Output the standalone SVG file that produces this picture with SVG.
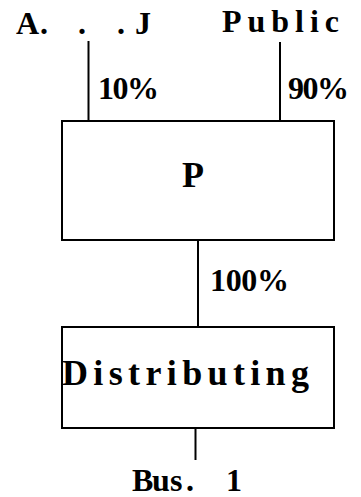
<svg xmlns="http://www.w3.org/2000/svg" width="361" height="497" viewBox="0 0 361 497">
<style>
.box{fill:#fff;stroke:#000;stroke-width:2}
.ln{stroke:#000;stroke-width:2;fill:none}
.t{font-family:"Liberation Serif","Times New Roman",serif;font-weight:bold;fill:#000;font-size:32px}
.big{font-size:36px}
</style>
<rect width="361" height="497" fill="#fff"/>
<g id="connectors">
<line class="ln" x1="88.5" y1="41" x2="88.5" y2="121"/>
<line class="ln" x1="280" y1="42" x2="280" y2="121"/>
<line class="ln" x1="198" y1="240" x2="198" y2="327"/>
<line class="ln" x1="195.5" y1="428" x2="195.5" y2="460"/>
</g>
<g id="node-aj"><text class="t" x="16 40 60 78 100 117 128 135" y="34">A. . . J</text></g>
<g id="node-public"><text class="t" x="222" y="32" textLength="117" lengthAdjust="spacing">Public</text></g>
<g id="label-10"><text class="t" x="98" y="99" textLength="61" lengthAdjust="spacing">10%</text></g>
<g id="label-90"><text class="t" x="288" y="99" textLength="61" lengthAdjust="spacing">90%</text></g>
<g id="node-p">
<rect class="box" x="62" y="121" width="272" height="119"/>
<text class="t big" x="182" y="187">P</text>
</g>
<g id="label-100"><text class="t" x="210" y="291" textLength="79" lengthAdjust="spacing">100%</text></g>
<g id="node-distributing">
<rect class="box" x="62" y="327" width="272" height="101"/>
<text class="t big" x="62" y="385" textLength="247" lengthAdjust="spacing">Distributing</text>
</g>
<g id="node-bus"><text class="t" x="132 152 170 186 195 226" y="491">Bus. 1</text></g>
</svg>
